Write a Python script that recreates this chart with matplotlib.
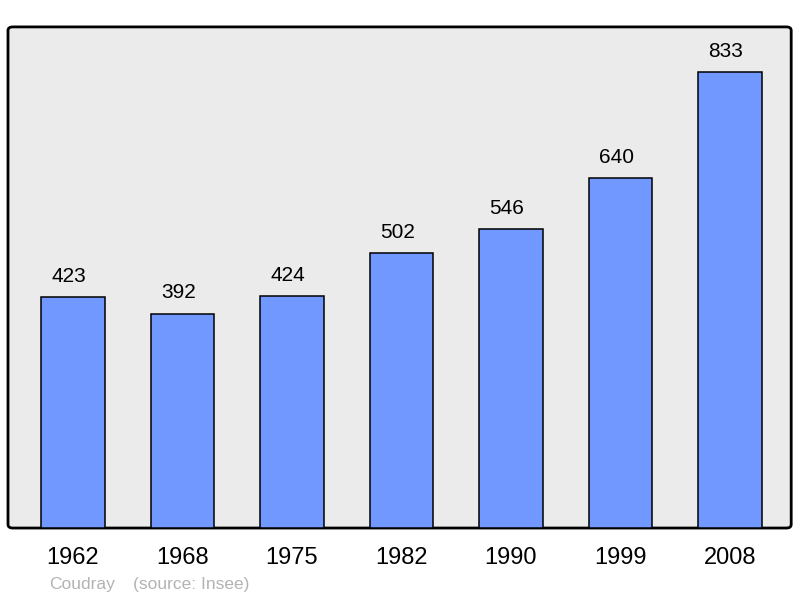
import matplotlib
matplotlib.use("Agg")
import matplotlib.pyplot as plt
from matplotlib.patches import FancyBboxPatch

years = ["1962", "1968", "1975", "1982", "1990", "1999", "2008"]
population = [423, 392, 424, 502, 546, 640, 833]
town = "Coudray"
source = "(source: Insee)"

plt.rcParams['font.family'] = ['Liberation Sans', 'DejaVu Sans']

fig = plt.figure(figsize=(8, 5.98), dpi=100)
ax = fig.add_axes([0.01, 0.117, 0.979, 0.838])
ax.set_facecolor("none")

# rounded frame behind the bars
frame = FancyBboxPatch((0.01, 0.117), 0.979, 0.838,
                       boxstyle="round,pad=0,rounding_size=0.006",
                       transform=fig.transFigure, facecolor="#ebebeb",
                       edgecolor="black", linewidth=2, zorder=0, clip_on=False)
ax.add_patch(frame)

x = range(len(years))
ax.bar(x, population, width=0.58, color="#7098ff", edgecolor="black",
       linewidth=1.1, zorder=2)
for i, v in zip(x, population):
    ax.annotate(str(v), (i, v), xytext=(-3, 8), textcoords="offset points",
                ha="center", va="bottom", fontsize=15)

ax.set_xlim(-0.593, 6.56)
ax.set_ylim(0, 916)
ax.set_yticks([])
ax.set_xticks(list(x))
ax.set_xticklabels(years, fontsize=17)
ax.tick_params(axis="x", length=0, pad=14)
for s in ax.spines.values():
    s.set_visible(False)

fig.text(0.061, 0.015, town, fontsize=12.5, color="#b3b3b3")
fig.text(0.166, 0.015, source, fontsize=12.5, color="#b3b3b3")

fig.savefig("out.png", dpi=100)
